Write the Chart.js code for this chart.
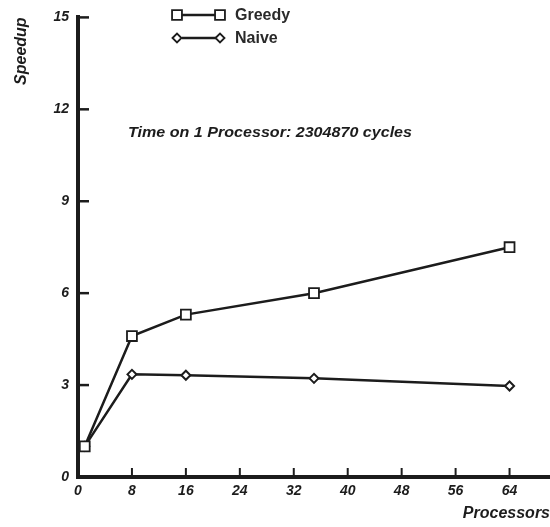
<!DOCTYPE html>
<html>
<head>
<meta charset="utf-8">
<script src="https://cdn.jsdelivr.net/npm/chart.js@4.4.1/dist/chart.umd.min.js"></script>
<style>
  html, body { margin: 0; padding: 0; background: #fff; }
  #wrap { width: 550px; height: 527px; position: relative; }
</style>
</head>
<body>
<div id="wrap"><canvas id="speedChart"></canvas></div>
<script>
// processor counts measured, and speedup for each scheduler
const processors = [1, 8, 16, 35, 64];
const greedySpeedup = [1, 4.6, 5.3, 6.0, 7.5];
const naiveSpeedup = [1, 3.35, 3.32, 3.22, 2.97];

// axis ticks
const xTicks = [0, 8, 16, 24, 32, 40, 48, 56, 64];
const yTicks = [0, 3, 6, 9, 12, 15];

const ink = '#1c1c1c';
const labelFont = { family: 'Liberation Sans, Arial, sans-serif', size: 14, weight: 'bold', style: 'italic' };

function toPoints(ys) {
    return processors.map((p, i) => ({ x: p, y: ys[i] }));
}

// inward tick marks, legend and the note, drawn on top
const decorations = {
    id: 'decorations',
    afterDraw(chart) {
        const ctx = chart.ctx;
        const xs = chart.scales.x, ys = chart.scales.y;
        const area = chart.chartArea;
        ctx.save();
        ctx.strokeStyle = ink;
        ctx.lineWidth = 2.5;
        yTicks.filter(v => v > 0).forEach(v => {
            const py = ys.getPixelForValue(v);
            ctx.beginPath();
            ctx.moveTo(area.left, py);
            ctx.lineTo(area.left + 11, py);
            ctx.stroke();
        });
        ctx.lineWidth = 2;
        xTicks.filter(v => v > 0).forEach(v => {
            const px = xs.getPixelForValue(v);
            ctx.beginPath();
            ctx.moveTo(px, area.bottom);
            ctx.lineTo(px, area.bottom - 9);
            ctx.stroke();
        });

        // legend: marker - line - marker  name
        const rows = [
            { y: 15, style: 'rect', radius: 7, name: 'Greedy' },
            { y: 38, style: 'rectRot', radius: 4.5, name: 'Naive' }
        ];
        rows.forEach(r => {
            ctx.strokeStyle = ink;
            ctx.lineWidth = 2.5;
            ctx.beginPath();
            ctx.moveTo(182, r.y);
            ctx.lineTo(216, r.y);
            ctx.stroke();
            const opts = { pointStyle: r.style, radius: r.radius, borderWidth: 1.8 };
            ctx.fillStyle = '#fff';
            ctx.lineWidth = 1.8;
            [177, 220].forEach(px => {
                Chart.helpers.drawPoint(ctx, opts, px, r.y);
            });
            ctx.fillStyle = '#2a2a2a';
            ctx.font = 'bold 16px "Liberation Sans", Arial, sans-serif';
            ctx.textBaseline = 'middle';
            ctx.textAlign = 'left';
            ctx.fillText(r.name, 235, r.y + 1);
        });

        // note about the single-processor time
        const note = 'Time on 1 Processor: 2304870 cycles';
        ctx.font = 'italic bold 14px "Liberation Sans", Arial, sans-serif';
        const w = ctx.measureText(note).width;
        ctx.translate(128, 133);
        ctx.scale(284 / w, 1);
        ctx.fillStyle = ink;
        ctx.textBaseline = 'middle';
        ctx.fillText(note, 0, 0);
        ctx.restore();
    }
};

new Chart(document.getElementById('speedChart'), {
    type: 'line',
    data: {
        datasets: [
            {
                label: 'Greedy',
                data: toPoints(greedySpeedup),
                borderColor: ink,
                borderWidth: 2.5,
                pointStyle: 'rect',
                pointRadius: 7,
                pointBorderWidth: 1.8,
                pointBackgroundColor: '#fff',
                pointBorderColor: ink,
                tension: 0
            },
            {
                label: 'Naive',
                data: toPoints(naiveSpeedup),
                borderColor: ink,
                borderWidth: 2.5,
                pointStyle: 'rectRot',
                pointRadius: 4.5,
                pointBorderWidth: 2,
                pointBackgroundColor: '#fff',
                pointBorderColor: ink,
                tension: 0
            }
        ]
    },
    options: {
        responsive: true,
        maintainAspectRatio: false,
        animation: false,
        layout: { autoPadding: false, padding: { top: 15, right: 0, left: 0, bottom: 0 } },
        plugins: {
            legend: { display: false },
            tooltip: { enabled: false }
        },
        scales: {
            x: {
                type: 'linear',
                min: 0,
                max: 70,
                afterBuildTicks: (scale) => { scale.ticks = xTicks.map(v => ({ value: v })); },
                afterFit: (scale) => { scale.height = 50; scale.paddingRight = 0; },
                grid: { display: false, drawTicks: false },
                border: { display: true, color: ink, width: 4 },
                ticks: { color: ink, font: labelFont, padding: 6, maxRotation: 0 },
                title: {
                    display: true,
                    text: 'Processors',
                    align: 'end',
                    color: ink,
                    font: { family: 'Liberation Sans, Arial, sans-serif', size: 16, weight: 'bold', style: 'italic' },
                    padding: { top: 0, bottom: 4 }
                }
            },
            y: {
                min: 0,
                max: 15,
                afterBuildTicks: (scale) => { scale.ticks = yTicks.map(v => ({ value: v })); },
                afterFit: (scale) => { scale.width = 78; },
                grid: { display: false, drawTicks: false },
                border: { display: true, color: ink, width: 4 },
                ticks: { color: ink, font: labelFont, padding: 9 },
                title: {
                    display: true,
                    text: 'Speedup',
                    align: 'end',
                    color: ink,
                    font: { family: 'Liberation Sans, Arial, sans-serif', size: 16, weight: 'bold', style: 'italic' },
                    padding: { top: 12, bottom: 0 }
                }
            }
        }
    },
    plugins: [decorations]
});
</script>
</body>
</html>
